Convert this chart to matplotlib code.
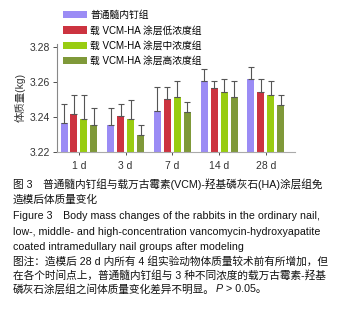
import matplotlib
matplotlib.use("Agg")
import matplotlib.pyplot as plt
import numpy as np

plt.rcParams["font.family"] = ["Liberation Sans", "Noto Sans CJK SC", "DejaVu Sans"]

# ── data ──────────────────────────────────────────────────────────────────
days = ["1 d", "3 d", "7 d", "14 d", "28 d"]
groups = [
    "普通髓内钉组",
    "载 VCM-HA 涂层低浓度组",
    "载 VCM-HA 涂层中浓度组",
    "载 VCM-HA 涂层高浓度组",
]
colors = ["#9b8cf5", "#cc3340", "#99cc11", "#7f9939"]

mean_ordinary = [3.2364, 3.2355, 3.2435, 3.2605, 3.2616]
mean_low = [3.2415, 3.2407, 3.2504, 3.2564, 3.2543]
mean_mid = [3.2387, 3.2387, 3.2515, 3.2543, 3.2523]
mean_high = [3.2355, 3.2297, 3.2426, 3.2515, 3.2465]

err_ordinary = [0.0110, 0.0097, 0.0135, 0.0067, 0.0066]
err_low = [0.0112, 0.0067, 0.0066, 0.0041, 0.0072]
err_mid = [0.0140, 0.0106, 0.0090, 0.0072, 0.0082]
err_high = [0.0097, 0.0056, 0.0060, 0.0090, 0.0060]

means = [mean_ordinary, mean_low, mean_mid, mean_high]
errs = [err_ordinary, err_low, err_mid, err_high]

yticks = [3.22, 3.24, 3.26, 3.28]

caption_lines = [
    "图 3　普通髓内钉组与载万古霉素(VCM)-羟基磷灰石(HA)涂层组免",
    "造模后体质量变化",
    "Figure 3　Body mass changes of the rabbits in the ordinary nail,",
    "low-, middle- and high-concentration vancomycin-hydroxyapatite",
    "coated intramedullary nail groups after modeling",
    "图注：造模后 28 d 内所有 4 组实验动物体质量较术前有所增加，但",
    "在各个时间点上，普通髓内钉组与 3 种不同浓度的载万古霉素-羟基",
]
last_line = ["磷灰石涂层组之间体质量变化差异不明显。", "P", " > 0.05。"]

# ── figure ────────────────────────────────────────────────────────────────
W, H = 348, 310
fig = plt.figure(figsize=(W / 100, H / 100), dpi=100)
ax = fig.add_axes([57 / W, 1 - 152 / H, 238 / W, 105.5 / H])

x = np.arange(len(days))
step = 0.214
width = 0.15
for i, (m, e, c, lab) in enumerate(zip(means, errs, colors, groups)):
    pos = x + (i - 1.5) * step
    ax.bar(pos, np.array(m) - 3.22, width=width, bottom=3.22, color=c,
           label=lab, zorder=2)
    ax.errorbar(pos, m, yerr=[np.zeros(len(e)), e], fmt="none",
                ecolor="#555555", elinewidth=0.8, capsize=2, capthick=0.8,
                zorder=3)

ax.set_ylim(3.22, 3.28)
ax.set_xlim(-0.471, 4.627)
ax.set_yticks(yticks)
ax.set_yticklabels([f"{t:.2f}" for t in yticks])
ax.set_xticks(x)
ax.set_xticklabels(days)
ax.tick_params(axis="both", labelsize=7.5, colors="#333333", length=3,
               width=0.6, pad=2)
ax.tick_params(axis="x", length=2.5, pad=4)
for s in ("top", "right"):
    ax.spines[s].set_visible(False)
ax.spines["left"].set_color("#888888")
ax.spines["bottom"].set_color("#aaaaaa")
ax.spines["left"].set_linewidth(0.8)
ax.spines["bottom"].set_linewidth(0.8)
ax.spines["left"].set_bounds(3.22, 3.2815)

fig.text(20 / W, 1 - 97 / H, "体质量(kg)", rotation=90, fontsize=7.5,
         color="#333333", ha="center", va="center")

handles, labels = ax.get_legend_handles_labels()
fig.legend(handles, labels, loc="upper left",
           bbox_to_anchor=(63 / W, 1 - 10 / H), frameon=False,
           fontsize=7, handlelength=2.5, handleheight=0.75,
           handletextpad=0.3, labelspacing=0.55, borderaxespad=0,
           borderpad=0)

cap_y = [184, 200, 216, 232, 247, 261, 275, 289]
for txt, yy in zip(caption_lines, cap_y):
    fig.text(13 / W, 1 - yy / H, txt, fontsize=7.7, color="#111111",
             ha="left", va="center")

# last caption line, with italic P placed after the measured text
y_last = 1 - cap_y[-1] / H
t = fig.text(13 / W, y_last, last_line[0], fontsize=7.7,
             color="#111111", ha="left", va="center")
fig.canvas.draw()
bb = t.get_window_extent()
t2 = fig.text((bb.x1 + 1) / W, y_last, last_line[1], fontsize=7.7,
              color="#111111", style="italic", ha="left", va="center")
fig.canvas.draw()
bb2 = t2.get_window_extent()
fig.text(bb2.x1 / W, y_last, last_line[2], fontsize=7.7,
         color="#111111", ha="left", va="center")

fig.savefig("out.png", dpi=100, facecolor="white")
